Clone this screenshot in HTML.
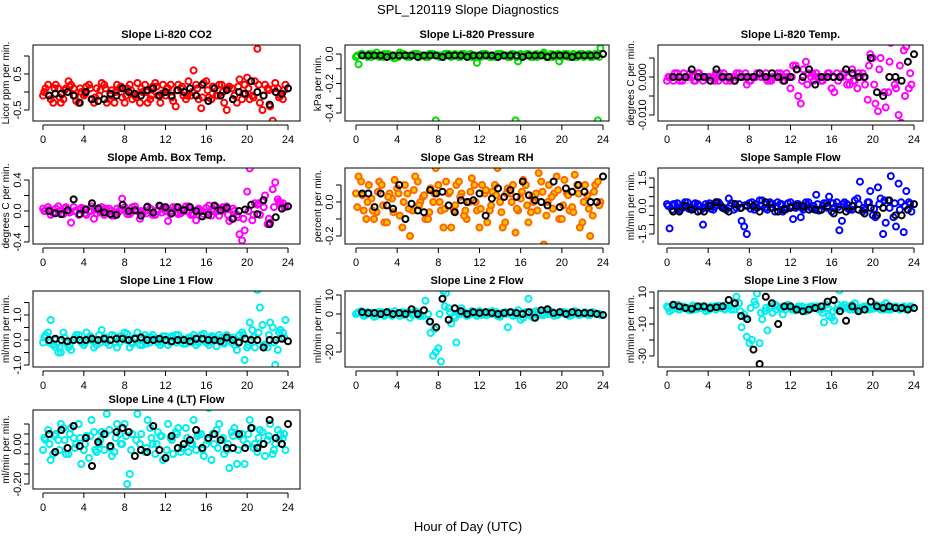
<!DOCTYPE html>
<html><head><meta charset="utf-8"><style>
body{margin:0;background:#fff;width:936px;height:540px;overflow:hidden}
svg text{font-family:"Liberation Sans",sans-serif}
</style></head><body>
<svg id="chart" width="936" height="540" viewBox="0 0 936 540" xmlns="http://www.w3.org/2000/svg">
<text x="468" y="14" text-anchor="middle" font-size="13">SPL_120119  Slope Diagnostics</text>
<text x="468" y="531" text-anchor="middle" font-size="13">Hour of Day (UTC)</text>
</svg>
<script>
const xTicks=[0,4,8,12,16,20,24];
const co2A=[0.1,-0.2,0.2,-0.3,0.1,0.2,-0.25,0.0,0.15,-0.2,0.1,0.25,-0.3,0.05,0.2,-0.15,0.1,-0.2,0.25,0.0,-0.3,0.15,-0.1,0.2,0.1,-0.25,0.2,-0.1,0.3,0.6,-0.2,0.25,-0.15,0.1,0.2,-0.3,0.15,-0.1,0.35,0.2,-0.2,0.3,-0.3,0.2,-0.4,0.25,-0.1,0.2];
const co2B=[-0.1,0.2,-0.3,0.1,-0.2,0.3,0.1,-0.3,-0.1,0.2,-0.3,-0.1,0.2,-0.2,-0.3,0.1,-0.3,0.2,-0.1,-0.3,0.2,-0.2,0.25,-0.3,-0.1,0.2,-0.4,0.1,-0.2,-0.1,0.2,-0.45,0.3,-0.2,-0.1,0.2,-0.5,0.1,-0.3,-0.2,0.4,-0.1,1.2,-0.5,0.1,-0.8,0.1,-0.2];
const co2C=[0.0,-0.1,0.1,-0.15,0.05,0.15,-0.1,0.1,-0.05,0.1,-0.15,0.05,0.1,-0.1,0.0,0.15,-0.1,0.05,-0.15,0.1,0.0,-0.1,0.15,-0.05,0.1,-0.15,0.05,0.15,-0.1,0.0,0.1,-0.15,0.05,0.15,-0.1,0.0,0.1,-0.2,0.15,-0.05,0.1,-0.15,0.2,-0.1,0.05,0.1,-0.15,0.05];
const co2K=[-0.1,-0.05,-0.05,0.0,-0.1,-0.3,0.0,-0.2,-0.25,-0.2,-0.05,-0.1,0.1,0.0,-0.05,-0.1,0.05,0.1,-0.1,0.0,-0.1,0.05,0.0,0.1,-0.1,0.2,-0.25,0.1,-0.1,0.05,-0.2,0.0,-0.05,0.3,0.0,-0.1,-0.35,0.0,-0.05,0.1];
const presA=[-0.07,-0.01,0.0,-0.01,-0.02,0.0,-0.01,-0.03,0.01,-0.01,-0.02,0.0,-0.01,-0.02,0.0,-0.45,-0.01,0.0,-0.02,-0.01,0.0,-0.01,-0.02,-0.06,0.0,-0.01,-0.02,0.0,-0.01,-0.02,0.0,-0.05,-0.01,0.0,-0.02,-0.01,0.01,-0.02,-0.01,-0.05,0.0,-0.01,-0.02,0.0,-0.01,-0.02,0.0,0.04];
const presB=[-0.02,0.0,-0.01,-0.02,0.01,-0.01,0.0,-0.02,-0.01,0.0,-0.02,-0.01,0.0,-0.01,-0.02,0.0,-0.01,-0.02,0.0,-0.01,-0.02,0.0,-0.01,-0.02,-0.01,0.0,-0.02,-0.01,0.0,-0.01,-0.02,-0.45,0.0,-0.01,-0.02,0.0,-0.01,-0.02,0.0,-0.01,-0.02,0.0,-0.01,-0.02,0.0,-0.01,-0.02,-0.45];
const presC=[-0.01,0.0,-0.02,0.0,-0.01,-0.02,0.0,-0.01,-0.02,0.0,-0.01,0.0,-0.02,-0.01,0.0,-0.01,-0.02,0.0,-0.01,0.0,-0.02,-0.01,0.0,-0.01,-0.02,0.0,-0.01,-0.02,0.0,-0.01,0.0,-0.02,-0.01,0.0,-0.01,-0.02,0.0,-0.01,-0.02,0.0,-0.01,-0.02,0.0,-0.01,-0.02,0.0,-0.01,-0.02];
const presK=[-0.01,-0.01,-0.01,-0.01,-0.02,-0.01,-0.01,-0.01,-0.01,-0.02,-0.01,-0.01,-0.01,-0.02,-0.01,-0.01,-0.01,-0.02,-0.01,-0.01,-0.01,-0.01,-0.02,-0.01,-0.01,-0.01,-0.02,-0.01,-0.01,-0.01,-0.02,-0.01,-0.01,-0.01,-0.02,-0.01,-0.01,-0.01,-0.01,0.0];
const tmpA=[0.0,0.001,-0.001,0.0,0.001,-0.001,0.0,0.0,-0.001,0.001,0.0,-0.001,0.0,0.001,0.0,-0.002,0.0,0.001,0.0,-0.001,0.0,0.001,-0.001,0.0,0.003,-0.005,0.002,0.001,-0.001,0.0,0.0,0.001,-0.004,0.0,0.001,-0.002,-0.001,0.0,-0.002,0.006,-0.007,0.005,-0.008,0.009,-0.003,-0.012,0.008,-0.002];
const tmpB=[-0.001,0.0,0.001,-0.001,0.0,0.0,0.001,-0.001,0.0,0.0,-0.001,0.001,0.0,-0.001,0.001,0.0,-0.001,0.0,0.001,0.0,-0.001,0.0,0.001,0.0,-0.003,0.003,-0.007,0.004,0.0,0.001,-0.001,0.0,-0.003,0.001,0.0,-0.002,0.002,-0.003,0.001,-0.006,0.005,-0.009,0.01,-0.004,0.011,-0.01,0.007,-0.003];
const tmpC=[0.0,-0.001,0.0,0.001,0.0,-0.001,0.001,0.0,0.0,-0.001,0.001,0.0,-0.001,0.0,0.0,0.001,-0.001,0.0,0.0,0.001,-0.001,0.0,0.0,0.001,0.0,0.002,-0.001,-0.002,0.001,0.0,-0.001,0.001,0.0,-0.001,0.001,0.0,-0.001,0.001,0.0,0.003,-0.002,0.002,-0.004,0.004,-0.002,0.003,-0.005,0.001];
const tmpK=[0.0,0.0,0.0,0.002,0.0,0.0,-0.001,0.002,0.0,0.0,-0.001,0.0,0.0,0.0,0.001,0.0,0.001,0.0,-0.001,0.0,0.002,0.0,0.002,-0.002,0.0,0.0,0.0,0.0,0.002,0.001,0.0,0.0,0.005,-0.004,-0.005,0.0,0.0,-0.001,0.004,0.006];
const ambA=[0.0,-0.05,0.03,-0.04,0.05,-0.15,0.0,0.04,-0.05,0.06,-0.03,0.05,0.0,-0.06,0.03,0.16,-0.04,0.05,0.0,-0.03,0.06,-0.05,0.0,0.04,-0.13,0.05,-0.04,0.0,0.06,-0.05,0.03,-0.04,0.07,0.0,-0.06,0.04,-0.13,0.0,-0.3,-0.25,0.55,0.1,-0.05,0.2,-0.15,0.37,0.1,0.05];
const ambB=[0.03,0.05,-0.03,0.06,-0.04,0.0,0.05,-0.05,0.03,0.0,-0.1,0.04,-0.05,0.03,-0.06,0.0,0.05,-0.04,0.06,-0.1,0.0,0.03,-0.05,0.06,0.0,-0.04,0.05,-0.03,0.06,-0.05,-0.12,0.0,0.04,-0.06,0.05,0.0,0.06,-0.1,-0.05,-0.38,0.25,-0.12,0.08,0.12,-0.17,0.28,0.15,0.1];
const ambC=[0.0,0.02,-0.02,0.0,0.03,-0.02,0.0,0.02,-0.03,0.0,0.02,-0.02,0.03,0.0,-0.02,0.03,0.0,-0.02,0.02,0.0,-0.03,0.02,0.0,-0.02,0.03,0.0,-0.02,0.02,0.0,-0.03,0.02,0.0,-0.02,0.03,0.0,0.05,-0.05,0.03,-0.08,-0.1,0.0,-0.05,0.1,0.05,-0.1,0.05,0.12,0.05];
const ambK=[0.0,-0.03,-0.04,0.01,0.15,-0.04,0.02,0.1,0.03,-0.02,-0.04,-0.05,0.08,0.0,0.01,-0.06,0.05,-0.02,0.07,0.05,-0.03,0.05,0.01,0.05,0.0,-0.07,-0.05,0.07,0.01,0.04,-0.1,0.0,0.02,0.08,-0.04,0.14,-0.17,-0.08,0.03,0.06];
const rhA=[0.15,-0.05,0.1,-0.1,0.12,-0.12,0.05,0.13,-0.08,0.1,-0.2,0.15,0.0,-0.1,0.08,0.2,-0.05,0.12,-0.15,0.1,0.05,-0.1,0.14,-0.05,0.1,-0.12,0.06,0.2,-0.15,0.08,0.1,-0.05,0.13,-0.12,0.0,0.17,-0.25,0.1,0.05,-0.1,0.13,-0.05,0.16,-0.15,0.1,-0.2,0.1,0.0];
const rhB=[0.05,0.12,-0.1,0.02,-0.06,0.1,-0.12,0.02,0.08,-0.15,0.05,-0.05,0.12,0.03,-0.1,0.0,0.1,-0.15,0.05,-0.05,0.12,-0.08,0.0,0.1,-0.15,0.05,-0.05,0.1,0.0,-0.12,0.05,-0.18,0.02,0.1,-0.06,0.05,0.12,-0.08,0.03,0.15,-0.1,0.05,-0.03,0.1,-0.12,0.04,-0.08,0.12];
const rhC=[-0.03,0.04,0.0,-0.05,0.06,-0.02,0.03,-0.06,0.05,0.0,-0.04,0.07,-0.02,0.04,-0.06,0.05,0.0,-0.04,0.06,-0.02,0.03,-0.05,0.06,0.0,-0.04,0.07,-0.02,0.04,-0.06,0.05,0.0,-0.04,0.06,-0.02,0.03,-0.05,0.06,0.0,-0.04,0.07,-0.02,0.04,-0.06,0.05,0.0,-0.04,0.06,-0.02];
const rhK=[0.05,0.05,-0.03,0.05,-0.02,-0.04,0.1,-0.1,-0.01,-0.05,-0.06,0.07,0.05,0.06,-0.02,-0.06,0.01,0.0,0.01,0.05,-0.08,0.02,0.08,0.03,0.07,0.03,0.12,0.04,0.01,0.0,-0.02,0.12,-0.03,0.08,0.06,0.1,0.06,0.0,0.0,0.15];
const smpA=[-1.2,0.1,-0.2,0.2,-0.1,0.15,-0.25,0.1,-0.15,0.2,0.0,-0.2,0.15,-0.1,-0.8,-1.5,0.2,-0.1,0.3,-0.2,0.1,0.2,-0.3,0.15,-0.7,0.1,-0.2,0.2,0.0,-0.25,0.15,0.5,-0.1,-1.3,0.2,-0.2,0.3,1.3,-0.2,0.8,-0.6,0.4,-0.9,1.6,-1.1,0.2,0.8,-0.3];
const smpB=[0.1,-0.2,0.15,-0.1,0.2,-0.15,0.1,-1.0,0.05,-0.2,0.2,-0.1,0.4,-0.2,0.1,-1.1,0.15,-0.2,0.3,-0.1,0.2,-0.3,0.1,-0.2,0.2,-0.1,-0.6,0.2,-0.1,0.6,-0.2,0.15,-0.3,0.2,-0.8,0.1,-0.2,0.4,-0.3,0.2,-0.5,1.0,-1.5,0.3,-0.6,1.2,-1.4,0.2];
const smpC=[0.0,0.1,-0.1,0.05,-0.15,0.1,0.0,-0.1,0.15,-0.05,0.1,-0.15,0.0,0.1,-0.1,0.05,-0.15,0.1,0.0,-0.1,0.15,-0.05,0.1,-0.15,0.0,0.1,-0.1,0.05,-0.15,0.1,0.0,-0.1,0.15,-0.05,0.1,-0.15,0.0,0.1,-0.1,0.2,-0.15,0.1,0.3,-0.1,0.15,-0.2,0.0,0.1];
const smpK=[-0.3,-0.3,0.0,-0.2,-0.3,-0.3,0.0,0.2,-0.1,-0.3,0.1,-0.1,0.0,0.0,-0.3,0.2,-0.1,-0.3,-0.2,-0.1,0.0,0.0,-0.2,-0.2,-0.2,0.0,-0.4,-0.2,-0.3,0.0,-0.2,-0.4,-0.1,-0.5,-0.1,0.3,-0.5,-0.5,-0.2,0.1];
const l1A=[0.2,0.8,-0.3,-0.5,-0.1,-0.4,0.2,-0.1,0.3,0.0,-0.2,0.4,-0.1,0.2,-0.3,0.1,0.25,-0.15,0.3,-0.2,0.1,0.2,-0.1,0.15,-0.2,0.1,0.2,-0.15,0.1,0.2,-0.1,0.25,-0.2,0.1,0.2,-0.15,0.1,-0.2,0.2,-0.8,0.7,-0.3,1.3,-0.2,0.7,-1.0,0.4,0.8];
const l1B=[-0.1,0.3,-0.2,-0.5,0.3,-0.3,0.0,0.2,-0.2,0.1,-0.3,0.2,0.0,-0.2,0.15,-0.1,0.3,-0.3,0.1,-0.2,0.2,-0.1,0.0,-0.2,0.15,-0.1,0.2,0.0,-0.15,0.1,-0.2,0.2,-0.1,0.15,-0.25,0.1,0.2,-0.1,-0.4,0.3,-0.3,0.4,2.0,0.6,-0.3,0.5,-0.4,0.3];
const l1C=[0.1,-0.1,0.0,-0.3,0.1,-0.2,0.1,0.0,-0.1,0.15,0.0,-0.1,0.1,0.0,-0.1,0.15,0.0,-0.1,0.1,0.0,-0.15,0.1,0.05,-0.1,0.0,0.15,-0.1,0.05,0.0,-0.1,0.1,0.0,-0.1,0.15,0.0,-0.1,0.05,0.1,-0.1,0.2,-0.2,0.1,0.3,-0.2,0.2,-0.1,0.3,0.1];
const l1K=[0.0,0.05,0.0,-0.05,0.0,0.0,0.0,0.05,0.0,0.05,0.0,0.05,0.05,0.0,0.05,0.1,0.0,0.0,0.05,0.0,-0.05,0.0,0.0,-0.05,0.05,0.05,0.0,0.0,-0.05,0.1,0.0,-0.1,0.05,0.0,0.0,-0.3,0.0,0.0,0.05,-0.05];
const l2A=[1.0,-1.0,0.5,-1.5,1.0,-1.0,0.0,1.5,-1.0,0.5,-2.0,1.5,-1.0,7.0,-10.0,-20.0,-25.0,11.0,-5.0,-15.0,3.0,-1.0,1.5,-1.0,0.5,-0.5,1.5,-1.0,0.5,-7.0,-1.0,2.0,-2.0,8.0,-2.0,1.0,-0.5,2.0,-1.0,0.5,1.0,-1.0,1.5,-0.5,1.0,-0.5,0.5,-0.5];
const l2B=[0.0,1.5,-0.5,0.5,-1.0,1.0,0.5,-1.0,0.0,1.0,0.5,-0.5,1.0,-1.0,0.0,-22.0,-18.0,12.0,3.0,-1.0,0.5,1.0,-0.5,0.0,1.5,-0.5,1.0,0.0,-1.5,1.0,0.5,-0.5,-3.0,1.0,-1.0,1.5,-0.5,1.0,0.0,-0.5,1.0,0.5,-0.5,1.0,0.0,-0.5,1.0,0.0];
const l2C=[0.5,0.0,1.0,0.0,0.5,-0.5,1.0,0.0,0.5,-0.5,1.0,0.0,-1.0,2.0,-4.0,-8.0,0.0,4.0,1.0,-2.0,0.0,0.5,0.0,1.0,-0.5,0.5,0.0,1.0,-0.5,0.0,1.0,-0.5,0.5,0.0,1.0,-0.5,0.5,0.0,1.0,-0.5,0.5,0.0,1.0,-0.5,0.5,0.0,0.5,0.0];
const l2K=[1.0,0.5,0.5,0.0,1.0,0.0,0.5,0.0,2.5,0.0,2.0,-4.0,-7.0,8.0,-3.0,3.0,1.5,0.0,1.0,0.5,1.0,0.5,0.0,0.5,1.0,0.5,0.0,1.0,-2.0,2.0,2.5,0.5,1.0,0.0,1.0,0.5,0.5,0.5,0.0,-0.5];
const l3A=[-2.0,1.0,-1.0,0.5,-1.5,1.0,0.0,-2.0,1.0,-1.0,0.5,2.0,-1.0,7.0,-12.0,-18.0,-20.0,9.0,-7.0,-14.0,-3.0,1.0,-4.0,2.0,-1.0,1.0,-2.0,0.5,1.0,-1.0,-9.0,-5.0,-8.0,11.0,2.0,-1.0,3.0,-1.0,1.0,0.0,2.0,-1.0,3.0,-1.0,1.0,0.0,-1.0,1.0];
const l3B=[1.0,-1.0,2.0,0.0,-1.0,1.5,-0.5,1.0,-1.5,0.5,1.5,-0.5,1.0,-1.0,3.0,-4.0,-22.0,4.0,-22.0,-2.0,1.0,2.0,0.0,-1.0,1.0,-1.5,0.5,-2.0,1.0,0.5,-1.0,2.0,-6.0,-1.0,1.0,0.0,2.0,-1.0,0.5,1.0,-0.5,0.0,1.5,-1.0,0.5,-0.5,1.0,0.0];
const l3C=[0.0,1.0,-1.0,1.0,0.0,-1.0,1.0,0.0,-1.0,1.0,0.0,-1.0,1.0,3.0,-2.0,-6.0,0.0,2.0,-3.0,0.0,1.0,-1.0,0.0,1.0,-1.0,0.0,1.0,-1.0,0.0,1.0,-3.0,0.0,-2.0,2.0,0.0,1.0,-1.0,0.0,1.0,-1.0,0.0,1.0,-1.0,0.0,1.0,-1.0,0.0,1.0];
const l3K=[2.0,1.0,0.0,-0.5,1.0,1.0,0.0,0.5,1.0,5.0,3.0,-5.0,-7.0,-26.0,-35.0,7.0,3.0,-10.0,1.0,1.0,-1.0,-2.0,-1.0,0.0,1.0,4.0,5.0,-2.0,-8.0,1.0,-2.0,-1.0,4.0,1.0,0.0,1.0,0.0,0.0,-1.0,0.0];
const l4A=[0.02,-0.08,0.05,0.1,-0.05,0.08,0.0,-0.1,0.04,0.12,-0.04,0.06,0.15,-0.06,0.1,0.0,-0.2,0.05,0.15,-0.25,0.12,0.0,0.06,-0.08,0.1,-0.05,0.08,0.0,-0.04,0.12,0.05,-0.06,0.18,0.0,0.1,-0.05,-0.12,0.08,0.04,-0.1,0.12,0.0,0.07,-0.06,0.1,0.0,0.05,-0.03];
const l4B=[-0.03,0.07,-0.05,0.02,0.08,-0.05,0.03,0.1,-0.03,-0.07,0.06,0.0,-0.03,0.07,-0.04,0.05,0.1,-0.15,-0.25,0.0,-0.04,0.08,-0.05,0.04,-0.07,0.03,0.06,-0.04,0.08,0.0,-0.03,0.05,0.0,-0.08,0.07,0.02,-0.03,0.06,-0.1,0.05,0.0,0.08,-0.04,0.06,0.02,-0.05,0.07,0.03];
const l4C=[0.03,0.0,0.04,-0.03,0.02,0.05,-0.02,0.03,0.0,0.04,-0.03,0.02,0.05,-0.02,0.03,0.0,0.04,-0.03,0.02,0.05,-0.02,0.03,0.0,0.04,-0.03,0.02,0.05,-0.02,0.03,0.0,0.04,-0.03,0.02,0.05,-0.02,0.03,0.0,0.04,-0.03,0.02,0.05,-0.02,0.03,0.0,0.04,-0.03,0.02,0.05];
const l4K=[0.05,-0.04,0.07,-0.02,0.09,-0.01,0.03,-0.11,0.01,0.05,-0.01,0.06,0.08,0.06,-0.06,-0.03,-0.04,0.09,-0.03,-0.07,0.04,-0.02,0.0,0.02,0.07,-0.02,0.03,0.05,0.02,-0.02,-0.02,0.05,-0.02,0.08,-0.02,0.0,0.12,0.03,0.0,0.1];
</script>
<script>
const NS="http://www.w3.org/2000/svg";
const svg=document.getElementById('chart');
const cols=[{l:33,r:300,x0:43,x24:288},{l:345,r:609,x0:356,x24:603},{l:658,r:923,x0:667,x24:914}];
const rows=[{t:45,b:121},{t:168,b:244},{t:291,b:367},{t:410,b:489}];
const panels=[
 {n:"co2",title:"Slope Li-820 CO2",yl:"Licor ppm per min.",c:0,r:0,col:"#ff0000",A:co2A,B:co2B,C:co2C,K:co2K,v1:0.5,p1:74,v2:-0.5,p2:110,ticks:[-0.5,0,0.5,1.0],labs:[-0.5,0.5],fmt:1},
 {n:"pressure",title:"Slope Li-820 Pressure",yl:"kPa per min.",c:1,r:0,col:"#00dd00",A:presA,B:presB,C:presC,K:presK,v1:0,p1:54,v2:-0.4,p2:113,ticks:[0,-0.1,-0.2,-0.3,-0.4],labs:[0,-0.2,-0.4],fmt:1},
 {n:"temp",title:"Slope Li-820 Temp.",yl:"degrees C per min.",c:2,r:0,col:"#ff00ff",A:tmpA,B:tmpB,C:tmpC,K:tmpK,v1:0,p1:77,v2:-0.01,p2:115,ticks:[0.005,0,-0.005,-0.01],labs:[0,-0.01],fmt:3},
 {n:"amb-box-temp",title:"Slope Amb. Box Temp.",yl:"degrees C per min.",c:0,r:1,col:"#ff00ff",A:ambA,B:ambB,C:ambC,K:ambK,v1:0.4,p1:180,v2:-0.4,p2:242,ticks:[0.4,0.2,0,-0.2,-0.4],labs:[0.4,0,-0.4],fmt:1},
 {n:"gas-stream-rh",title:"Slope Gas Stream RH",yl:"percent per min.",c:1,r:1,col:"#ff6600",fill:"#ffcc00",A:rhA,B:rhB,C:rhC,K:rhK,v1:0,p1:202,v2:-0.2,p2:236,ticks:[0.1,0,-0.1,-0.2],labs:[0,-0.2],fmt:1},
 {n:"sample-flow",title:"Slope Sample Flow",yl:"ml/min per min.",c:2,r:1,col:"#0000ff",A:smpA,B:smpB,C:smpC,K:smpK,v1:1.5,p1:178,v2:-1.5,p2:234,ticks:[1.5,1,0.5,0,-0.5,-1,-1.5],labs:[1.5,0,-1.5],fmt:1},
 {n:"line1-flow",title:"Slope Line 1 Flow",yl:"ml/min per min.",c:0,r:2,col:"#00eeee",A:l1A,B:l1B,C:l1C,K:l1K,v1:1,p1:315,v2:-1,p2:365,ticks:[1.5,1,0.5,0,-0.5,-1],labs:[1,0,-1],fmt:1},
 {n:"line2-flow",title:"Slope Line 2 Flow",yl:"ml/min per min.",c:1,r:2,col:"#00eeee",A:l2A,B:l2B,C:l2C,K:l2K,v1:10,p1:295,v2:-20,p2:352,ticks:[10,0,-10,-20],labs:[10,0,-20],fmt:0},
 {n:"line3-flow",title:"Slope Line 3 Flow",yl:"ml/min per min.",c:2,r:2,col:"#00eeee",A:l3A,B:l3B,C:l3C,K:l3K,v1:10,p1:292,v2:-30,p2:356,ticks:[10,0,-10,-20,-30],labs:[10,-10,-30],fmt:0},
 {n:"line4-flow",title:"Slope Line 4 (LT) Flow",yl:"ml/min per min.",c:0,r:3,col:"#00eeee",A:l4A,B:l4B,C:l4C,K:l4K,v1:0,p1:444,v2:-0.2,p2:484,ticks:[0.1,0.05,0,-0.05,-0.1,-0.15,-0.2],labs:[0,-0.2],fmt:2}
];
function mk(tag,attrs,parent){const e=document.createElementNS(NS,tag);for(const k in attrs)e.setAttribute(k,attrs[k]);(parent||svg).appendChild(e);return e;}
panels.forEach(p=>{
 const C=cols[p.c],R=rows[p.r];
 const g=mk('g',{});
 
 
 const xs=h=>C.x0+(C.x24-C.x0)*h/24;
 const ys=v=>p.p1+(p.p2-p.p1)*(v-p.v1)/(p.v2-p.v1);
 const t=mk('text',{x:(C.l+C.r)/2,y:R.t-7,'text-anchor':'middle','font-size':11,'font-weight':'bold'},g);
 t.textContent=p.title;
 
 
 const ax=mk('line',{x1:xs(0),x2:xs(24),y1:R.b+4,y2:R.b+4,stroke:'#000'},g);
 
 
 xTicks.forEach(h=>{
  mk('line',{x1:xs(h),x2:xs(h),y1:R.b+4,y2:R.b+9,stroke:'#000'},g);
  const tl=mk('text',{x:xs(h),y:R.b+22,'text-anchor':'middle','font-size':11},g);
  tl.textContent=h;
  
  
 });
 const yTop=ys(p.ticks[0]),yBot=ys(p.ticks[p.ticks.length-1]);
 const ay=mk('line',{x1:C.l-4,x2:C.l-4,y1:Math.min(yTop,yBot),y2:Math.max(yTop,yBot),stroke:'#000'},g);
 
 
 p.ticks.forEach(v=>mk('line',{x1:C.l-9,x2:C.l-4,y1:ys(v),y2:ys(v),stroke:'#000'},g));
 p.labs.forEach(v=>{
  const yy=ys(v),xx=C.l-12;
  const tl=mk('text',{x:xx,y:yy,'text-anchor':'middle','font-size':11,transform:`rotate(-90 ${xx} ${yy})`},g);
  tl.textContent=v.toFixed(p.fmt);
  
  
 });
 const yt=mk('text',{x:C.l-24,y:(R.t+R.b)/2,'text-anchor':'middle','font-size':10,transform:`rotate(-90 ${C.l-24} ${(R.t+R.b)/2})`},g);
 yt.textContent=p.yl;
 
 
 const clipId='clip'+p.n;
 const cp=mk('clipPath',{id:clipId},g);mk('rect',{x:C.l,y:R.t,width:C.r-C.l,height:R.b-R.t},cp);
 const pts=mk('g',{'clip-path':`url(#${clipId})`},g);
 const fill=p.fill||'none';
 const drawC=(h,v)=>{const c=mk('circle',{cx:xs(h),cy:ys(v),r:3,fill:fill,stroke:p.col,'stroke-width':2},pts);
  
  };
 p.A.forEach((v,i)=>drawC(0.25+0.5*i,v));
 p.B.forEach((v,i)=>drawC(0.5*i,v));
 p.C.forEach((v,i)=>drawC(0.125+0.5*i,v));
 p.K.forEach((v,i)=>{const c=mk('circle',{cx:xs(0.6*(i+1)),cy:ys(v),r:3,fill:'none',stroke:'#000','stroke-width':2},pts);
  
  });
 const box=mk('rect',{x:C.l,y:R.t,width:C.r-C.l,height:R.b-R.t,fill:'none',stroke:'#000'},g);
 
 
});
</script>
</body></html>
